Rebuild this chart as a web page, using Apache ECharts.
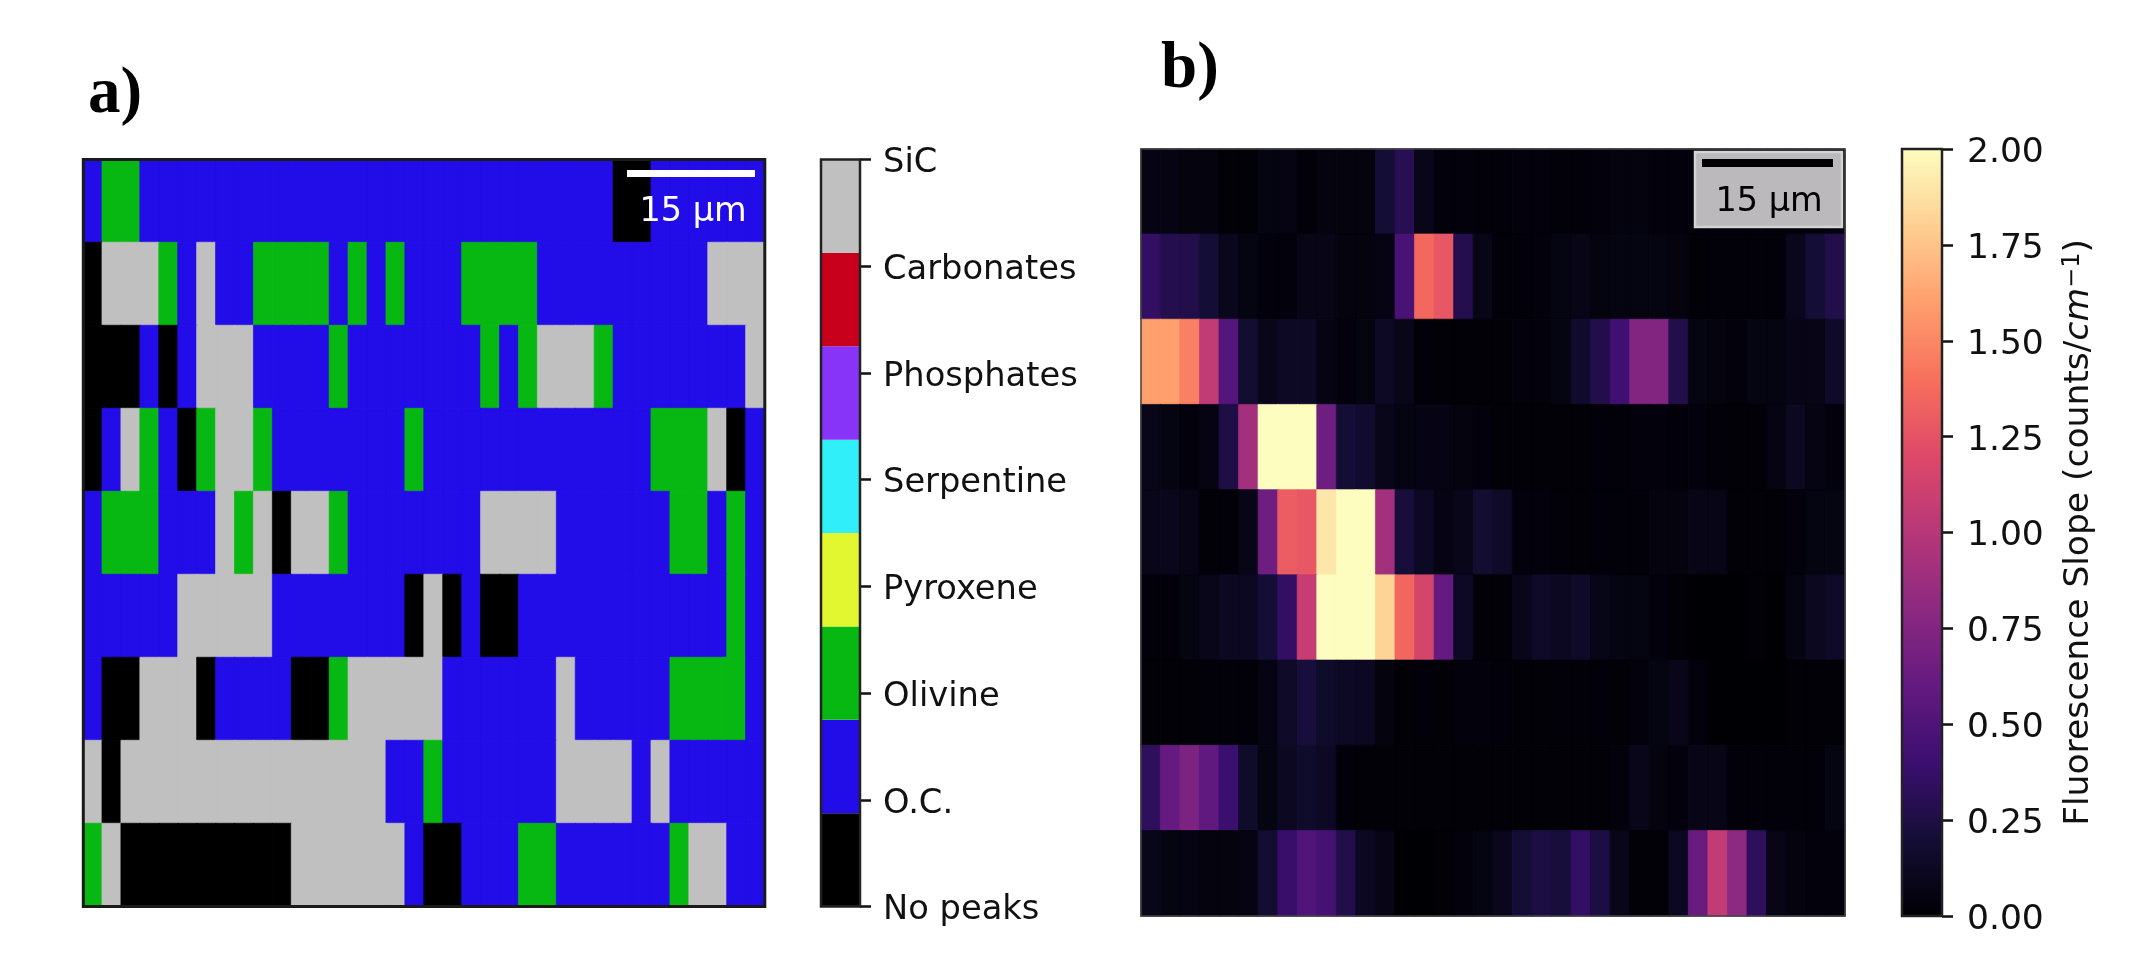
<!DOCTYPE html>
<html><head><meta charset="utf-8">
<style>html,body{margin:0;padding:0;background:#fff}#c{width:2133px;height:967px}</style>
<script src="https://cdn.jsdelivr.net/npm/echarts@6/dist/echarts.min.js"></script>
</head><body><div id="c"></div>
<script>
const mineralNames = ['No peaks','O.C.','Olivine','Pyroxene','Serpentine','Phosphates','Carbonates','SiC'];
const mineralColors = ['#000000','#220ce8','#08b812','#e2f72f','#30eff8','#8833f8','#c8001c','#c0c0c0'];
const mineralBinSpan = 0.875;
// class index, run length ... (left to right), rows top to bottom. 0 none, 1 O.C., 2 olivine, 7 SiC
const mineralRun0 = [1,1, 2,2, 1,25, 0,2, 1,6];
const mineralRun1 = [0,1, 7,3, 2,1, 1,1, 7,1, 1,2, 2,4, 1,1, 2,1, 1,1, 2,1, 1,3, 2,4, 1,9, 7,3];
const mineralRun2 = [0,3, 1,1, 0,1, 1,1, 7,3, 1,4, 2,1, 1,7, 2,1, 1,1, 2,1, 7,3, 2,1, 1,7, 7,1];
const mineralRun3 = [0,1, 1,1, 7,1, 2,1, 1,1, 0,1, 2,1, 7,2, 2,1, 1,7, 2,1, 1,12, 2,3, 7,1, 0,1, 1,1];
const mineralRun4 = [1,1, 2,3, 1,3, 7,1, 2,1, 7,1, 0,1, 7,2, 2,1, 1,7, 7,4, 1,6, 2,2, 1,1, 2,1, 1,1];
const mineralRun5 = [1,5, 7,5, 1,7, 0,1, 7,1, 0,1, 1,1, 0,2, 1,11, 2,1, 1,1];
const mineralRun6 = [1,1, 0,2, 7,3, 0,1, 1,4, 0,2, 2,1, 7,5, 1,6, 7,1, 1,5, 2,4, 1,1];
const mineralRun7 = [7,1, 0,1, 7,14, 1,2, 2,1, 1,6, 7,4, 1,1, 7,1, 1,5];
const mineralRun8 = [2,1, 7,1, 0,9, 7,6, 1,1, 0,2, 1,3, 2,2, 1,6, 2,1, 7,2, 1,2];
const mineralRuns = [mineralRun0,mineralRun1,mineralRun2,mineralRun3,mineralRun4,mineralRun5,mineralRun6,mineralRun7,mineralRun8];

const slope0 = [.06,.06,.04,.04,.01,.01,.05,.06,.02,.04,.04,.04,.2,.3,.08,.03,.03,.02,.02,.03,.03,.02,.02,.03,.04,.04,.03,.03,.03,.03,.03,.03,.03,.03,.03,.03];
const slope1 = [.36,.28,.27,.2,.1,.05,.03,.03,.07,.07,.04,.04,.06,.47,1.36,1.27,.28,.07,.02,.02,.03,.05,.07,.04,.05,.05,.05,.04,.01,.02,.02,.02,.02,.1,.2,.27];
const slope2 = [1.6,1.6,1.47,1.05,.52,.18,.08,.13,.13,.06,.03,.05,.13,.08,.02,.01,.01,.01,.01,.03,.03,.05,.16,.27,.42,.75,.75,.27,.05,.04,.03,.05,.05,.07,.07,.14];
const slope3 = [.08,.05,.03,.06,.25,.9,2,2,2,.65,.2,.17,.09,.05,.06,.06,.04,.03,.01,.01,.01,.01,.01,.02,.02,.03,.03,.02,.03,.02,.01,.01,.06,.12,.06,.03];
const slope4 = [.08,.1,.07,.01,.02,.07,.65,1.3,1.27,1.9,2,2,.9,.22,.13,.06,.08,.18,.14,.03,.03,.02,.01,.02,.02,.02,.04,.04,.07,.07,.01,.01,.01,.03,.05,.05];
const slope5 = [.02,.02,.05,.08,.12,.12,.2,.36,1.07,2,2,2,1.82,1.35,1.15,.6,.13,.01,.01,.09,.14,.12,.14,.07,.05,.05,.03,.01,0,0,0,.01,0,.05,.11,.14];
const slope6 = [.01,.01,.01,.02,.02,.02,.06,.14,.22,.15,.13,.12,.04,.01,.02,.01,.03,.03,.02,.01,.01,.02,.02,.02,.01,.03,.05,.09,.03,0,0,0,0,.01,.01,.01];
const slope7 = [.33,.6,.72,.58,.4,.15,.05,.12,.15,.13,.02,.01,.01,.01,.01,.01,.01,.01,.01,.01,.01,.01,.01,.01,.03,.09,.04,.03,.07,.07,.02,.02,.02,.02,.02,.05];
const slope8 = [.09,.05,.06,.04,.04,.06,.18,.38,.5,.45,.27,.12,.07,0,0,.01,.03,.05,.1,.2,.24,.22,.35,.24,.09,.01,.01,.12,.62,1.05,.8,.33,.07,.04,.03,.03];
const slopeRows = [slope0,slope1,slope2,slope3,slope4,slope5,slope6,slope7,slope8];

const magmaColors = ['#000004','#140e36','#3b0f70','#641a80','#8c2981','#b73779','#de4968','#f7705c','#fe9f6d','#fecf92','#fcfdbf'];
const slopeTicks = [0,.25,.5,.75,1,1.25,1.5,1.75,2];
const scaleLabel = '15 µm';

const colIdx = Array.from({length:36},(_,i)=>i), rowIdx = Array.from({length:9},(_,i)=>i);
const cell=(c,r,v,color)=>({value:[c,r,v],itemStyle:{color,borderColor:color,borderWidth:0.7}});
const mineralData = [];
mineralRuns.forEach((run,r)=>{let c=0;for(let i=0;i<run.length;i+=2){for(let k=0;k<run[i+1];k++)mineralData.push(cell(c++,r,run[i],mineralColors[run[i]]));}});
const slopeData = [];
slopeRows.forEach((row,r)=>row.forEach((v,c)=>slopeData.push(cell(c,r,v,echarts.color.lerp(v/2,magmaColors)))));

const FONT='"DejaVu Sans"';
const tickLabel={color:'#111',fontFamily:FONT,verticalAlign:'top',lineHeight:8};
const tick={show:true,length:11,lineStyle:{color:'#111',width:2.5}};
const hiddenCat=(data,extra)=>Object.assign({type:'category',data,show:false},extra||{});

const grids=[
 {left:83.3,top:159.5,width:681.5,height:747},
 {left:1141,top:149,width:704,height:767},
 {left:821,top:159.5,width:39,height:747},
 {left:1902,top:149,width:40,height:767}
];
const frame=(g,c,w)=>({type:'rect',shape:{x:g.left,y:g.top,width:g.width,height:g.height},style:{fill:'none',stroke:c,lineWidth:w},z:100});
const panelText=(t,x,y)=>({type:'text',x,y,z:100,style:{text:t,fill:'#000',font:'bold 65px "Liberation Serif"',textVerticalAlign:'bottom'}});

const chart=echarts.init(document.getElementById('c'),null,{renderer:'canvas'});
chart.setOption({
 animation:false,backgroundColor:'#fff',
 grid:grids,
 xAxis:[
  hiddenCat(colIdx,{gridIndex:0}),hiddenCat(colIdx,{gridIndex:1}),
  hiddenCat(['bar'],{gridIndex:2}),hiddenCat(['bar'],{gridIndex:3})
 ],
 yAxis:[
  hiddenCat(rowIdx,{gridIndex:0,inverse:true}),hiddenCat(rowIdx,{gridIndex:1,inverse:true}),
  {gridIndex:2,type:'value',position:'right',min:0,max:mineralNames.length-1,interval:1,splitLine:{show:false},axisLine:{show:false},axisTick:tick,
   axisLabel:Object.assign({},tickLabel,{fontSize:33.7,margin:23,formatter:v=>mineralNames[v]})},
  {gridIndex:3,type:'value',position:'right',min:slopeTicks[0],max:slopeTicks[slopeTicks.length-1],interval:.25,splitLine:{show:false},axisLine:{show:false},axisTick:tick,
   axisLabel:Object.assign({},tickLabel,{fontSize:34.5,margin:25,formatter:v=>v.toFixed(2)}),
   name:'Fluorescence Slope (counts/{i|cm}{s|−1})',nameLocation:'middle',nameRotate:90,nameGap:119,
   nameTextStyle:{color:'#111',fontFamily:FONT,fontSize:34.5,rich:{i:{fontFamily:FONT,fontStyle:'italic',fontSize:34.5,color:'#111'},s:{fontFamily:FONT,fontSize:24,color:'#111',verticalAlign:'top',padding:[0,0,12,0]}}}}
 ],
 series:[
  {type:'heatmap',xAxisIndex:0,yAxisIndex:0,data:mineralData,emphasis:{disabled:true},silent:true,progressive:0},
  {type:'heatmap',xAxisIndex:1,yAxisIndex:1,data:slopeData,emphasis:{disabled:true},silent:true,progressive:0},
  ...mineralColors.map(c=>({type:'bar',xAxisIndex:2,yAxisIndex:2,stack:'bins',barWidth:'100%',data:[mineralBinSpan],itemStyle:{color:c},silent:true})),
  {type:'bar',xAxisIndex:3,yAxisIndex:3,barWidth:'100%',data:[slopeTicks[slopeTicks.length-1]],silent:true,
   itemStyle:{color:new echarts.graphic.LinearGradient(0,1,0,0,magmaColors.map((c,i)=>({offset:i/(magmaColors.length-1),color:c})))}}
 ],
 graphic:[
  frame(grids[0],'#1a1a1a',3),frame(grids[1],'#444',1.5),frame(grids[2],'#222',2.5),frame(grids[3],'#222',2.5),
  panelText('a)',88,128),panelText('b)',1161,103),
  {type:'rect',z:110,shape:{x:627,y:170,width:128,height:7},style:{fill:'#fff'}},
  {type:'text',z:110,x:693,y:212,style:{text:scaleLabel,fill:'#fff',font:'33.5px "DejaVu Sans"',textAlign:'center',textVerticalAlign:'middle'}},
  {type:'rect',z:110,shape:{x:1695,y:152,width:147,height:75},style:{fill:'#bbb9bb',stroke:'#d4d4d4',lineWidth:2.5}},
  {type:'rect',z:111,shape:{x:1702,y:159,width:131,height:8},style:{fill:'#000'}},
  {type:'text',z:111,x:1769,y:202,style:{text:scaleLabel,fill:'#000',font:'33.5px "DejaVu Sans"',textAlign:'center',textVerticalAlign:'middle'}}
 ]
});
</script>
</body></html>
